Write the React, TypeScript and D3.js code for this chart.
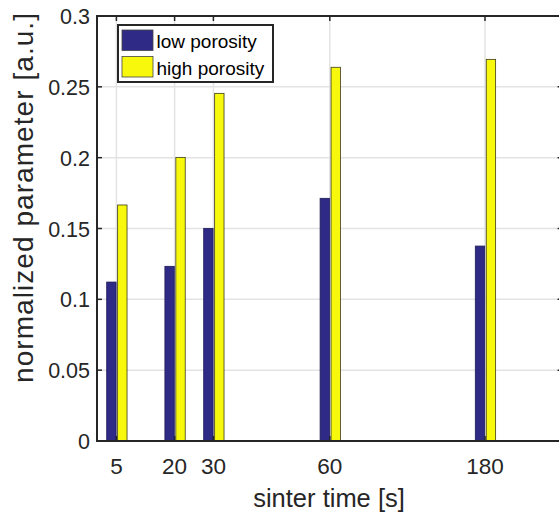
import React, { useEffect, useRef } from "react";
import * as d3 from "d3";

// sinter times (tick labels) and where they sit on the axis
const timeLabels = ["5", "20", "30", "60", "180"];
const timePositions = [5, 20, 30, 60, 100];

// normalized parameter per series
const lowPorosity = [0.1122, 0.1233, 0.1501, 0.1713, 0.1376];
const highPorosity = [0.1666, 0.2002, 0.2454, 0.2638, 0.2694];

const seriesNames = ["low porosity", "high porosity"];
const yTicks = [0, 0.05, 0.1, 0.15, 0.2, 0.25, 0.3];

const App = () => {
  const chartRef = useRef<SVGSVGElement>(null);

  useEffect(() => {
    const width = 559;
    const height = 512;
    const left = 97;
    const top = 16;
    const bottom = 441;
    const right = 562.6;
    const axisColor = "#262626";
    const font = "'Liberation Sans', Arial, Helvetica, sans-serif";
    const colors = ["#2e2a86", "#f8f80c"];

    const svg = d3.select(chartRef.current);
    svg.selectAll("*").remove();
    svg.attr("width", width).attr("height", height);

    const x = d3.scaleLinear().domain([0, 120]).range([left, right]);
    const y = d3.scaleLinear().domain([0, 0.3]).range([bottom, top]);

    // grid
    svg
      .append("g")
      .selectAll("line")
      .data(yTicks.slice(1, -1))
      .join("line")
      .attr("x1", left)
      .attr("x2", right)
      .attr("y1", (d) => y(d))
      .attr("y2", (d) => y(d))
      .attr("stroke", "#e3e3e3")
      .attr("stroke-width", 1.5);

    svg
      .append("g")
      .selectAll("line")
      .data(timePositions)
      .join("line")
      .attr("x1", (d) => x(d))
      .attr("x2", (d) => x(d))
      .attr("y1", top)
      .attr("y2", bottom)
      .attr("stroke", "#e3e3e3")
      .attr("stroke-width", 1.5);

    // bars
    const barW = 2.42;
    const offsets = [-2.5, 0.32];
    [lowPorosity, highPorosity].forEach((values, s) => {
      svg
        .append("g")
        .selectAll("rect")
        .data(values)
        .join("rect")
        .attr("x", (d, i) => x(timePositions[i] + offsets[s]))
        .attr("width", x(barW) - x(0))
        .attr("y", (d) => y(d))
        .attr("height", (d) => y(0) - y(d))
        .attr("fill", colors[s])
        .attr("stroke", s === 0 ? "#1e1c55" : "#3a3a1a")
        .attr("stroke-width", 0.8);
    });

    // axes box
    svg
      .append("rect")
      .attr("x", left)
      .attr("y", top)
      .attr("width", right - left)
      .attr("height", bottom - top)
      .attr("fill", "none")
      .attr("stroke", axisColor)
      .attr("stroke-width", 2);

    // tick marks (inward)
    const tickLen = 5;
    const ticks = svg.append("g").attr("stroke", axisColor).attr("stroke-width", 1.5);
    yTicks.forEach((t) => {
      ticks.append("line").attr("x1", left).attr("x2", left + tickLen).attr("y1", y(t)).attr("y2", y(t));
      ticks.append("line").attr("x1", right).attr("x2", right - tickLen).attr("y1", y(t)).attr("y2", y(t));
    });
    timePositions.forEach((t) => {
      ticks.append("line").attr("x1", x(t)).attr("x2", x(t)).attr("y1", top).attr("y2", top + tickLen);
      ticks.append("line").attr("x1", x(t)).attr("x2", x(t)).attr("y1", bottom).attr("y2", bottom - tickLen);
    });

    // tick labels
    svg
      .append("g")
      .selectAll("text")
      .data(yTicks)
      .join("text")
      .attr("x", 90)
      .attr("y", (d) => y(d) + 8)
      .attr("text-anchor", "end")
      .attr("font-family", font)
      .attr("font-size", 21.5)
      .attr("fill", axisColor)
      .text((d) => String(d));

    svg
      .append("g")
      .selectAll("text")
      .data(timePositions)
      .join("text")
      .attr("x", (d) => x(d))
      .attr("y", 474)
      .attr("text-anchor", "middle")
      .attr("font-family", font)
      .attr("font-size", 22.5)
      .attr("fill", axisColor)
      .text((d, i) => timeLabels[i]);

    // axis labels
    svg
      .append("text")
      .attr("x", 329)
      .attr("y", 506.5)
      .attr("text-anchor", "middle")
      .attr("font-family", font)
      .attr("font-size", 25.5)
      .attr("fill", axisColor)
      .text("sinter time [s]");

    svg
      .append("text")
      .attr("transform", "translate(33,198) rotate(-90)")
      .attr("text-anchor", "middle")
      .attr("font-family", font)
      .attr("font-size", 28)
      .attr("textLength", 370)
      .attr("lengthAdjust", "spacing")
      .attr("fill", axisColor)
      .text("normalized parameter [a.u.]");

    // legend
    const legend = svg.append("g");
    legend
      .append("rect")
      .attr("x", 118)
      .attr("y", 25)
      .attr("width", 155)
      .attr("height", 57)
      .attr("fill", "#ffffff")
      .attr("stroke", axisColor)
      .attr("stroke-width", 2);

    legend
      .selectAll("rect.swatch")
      .data(seriesNames)
      .join("rect")
      .attr("class", "swatch")
      .attr("x", 122)
      .attr("y", (d, i) => 30 + i * 26.5)
      .attr("width", 31)
      .attr("height", 20.5)
      .attr("fill", (d, i) => colors[i])
      .attr("stroke", "#444")
      .attr("stroke-width", 0.8);

    legend
      .selectAll("text")
      .data(seriesNames)
      .join("text")
      .attr("x", 156.5)
      .attr("y", (d, i) => 48 + i * 26.5)
      .attr("font-family", font)
      .attr("font-size", 19)
      .attr("fill", "#000")
      .text((d) => d);
  }, []);

  return (
    <svg
      ref={chartRef}
      style={{ position: "absolute", left: 0, top: 0, display: "block", background: "#fff" }}
    />
  );
};

export default App;
